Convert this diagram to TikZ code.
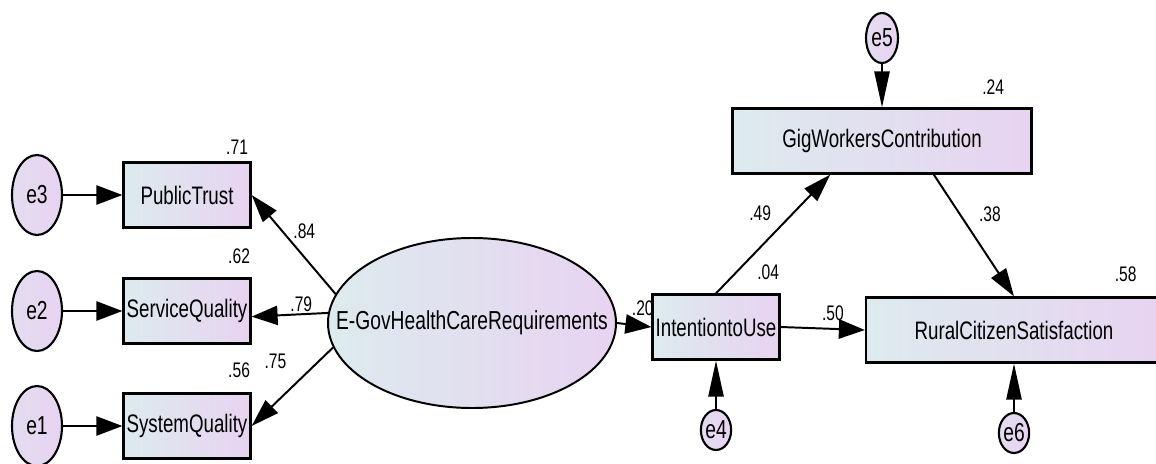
\documentclass[tikz,border=0pt]{standalone}
\usepackage{fontspec}
\setmainfont[FakeStretch=0.74]{Liberation Sans}
\usepackage{tikz}
\usetikzlibrary{arrows.meta,positioning,shapes.geometric}
\definecolor{AmosCyan}{HTML}{DCEBEE}
\definecolor{AmosPink}{HTML}{E8D3F1}
\tikzset{
  obsbox/.style={draw=black, line width=1.6pt, left color=AmosCyan, right color=AmosPink,
                 minimum width=3.175cm, minimum height=1.625cm, inner sep=0pt,
                 font=\fontsize{18}{21}\selectfont},
  latvar/.style={ellipse, draw=black, line width=1.4pt, left color=AmosCyan, right color=AmosPink,
                 minimum width=7.2cm, minimum height=4.25cm, inner sep=0pt,
                 font=\fontsize{18.5}{21}\selectfont},
  errvar/.style={ellipse, draw=black, line width=1.5pt, left color=AmosCyan!40!AmosPink, right color=AmosPink,
                 minimum width=1.25cm, minimum height=2cm, inner sep=0pt,
                 font=\fontsize{18.5}{21}\selectfont},
  coef/.style={font=\fontsize{15}{17}\selectfont, inner sep=1pt},
  hpath/.style={-{Triangle[length=6.5mm,width=4.8mm]}, line width=1.4pt},
  vpath/.style={-{Triangle[length=9mm,width=3.8mm]}, line width=1.4pt},
  dpath/.style={-{Triangle[length=7mm,width=4.4mm]}, line width=1.4pt}
}

\begin{document}
\begin{tikzpicture}[on grid]
\useasboundingbox (0,0) rectangle (28.9,-11.575);
% measurement part
\node[obsbox] (sq) at (4.675,-7.775) {ServiceQuality};
\node[obsbox, above=2.9cm of sq] (pt) {PublicTrust};
\node[obsbox, below=2.875cm of sq] (sy) {SystemQuality};
\node[errvar, left=3.75cm of pt] (e3) {e3};
\node[errvar, left=3.75cm of sq] (e2) {e2};
\node[errvar, left=3.75cm of sy] (e1) {e1};
\node[latvar, below right=0.3cm and 7.125cm of sq] (egov) {\makebox[0pt]{E-GovHealthCareRequirements}};
% structural part
\node[obsbox, below right=0.1cm and 6.1cm of egov] (itu) {IntentiontoUse};
\node[obsbox, minimum width=7.475cm, above right=4.65cm and 4.15cm of itu] (gwc) {GigWorkersContribution};
\node[obsbox, minimum width=7.4cm, below right=0.075cm and 7.45cm of itu] (rcs) {RuralCitizenSatisfaction};
\node[errvar, minimum width=0.8cm, minimum height=1.25cm, above=2.575cm of gwc] (e5) {e5};
\node[errvar, minimum width=0.75cm, minimum height=1cm, below=2.575cm of itu] (e4) {e4};
\node[errvar, minimum width=0.75cm, minimum height=1cm, below=2.575cm of rcs] (e6) {e6};
% squared multiple correlations
\node[coef, anchor=south east, xshift=-0.05cm, yshift=0.12cm] (r2pt) at (pt.north east) {.71};
\node[coef, anchor=south east, yshift=0.3cm] (r2sq) at (sq.north east) {.62};
\node[coef, anchor=south east, yshift=0.32cm] (r2sy) at (sy.north east) {.56};
\node[coef, anchor=south east, yshift=0.3cm] (r2itu) at (itu.north east) {.04};
\node[coef, anchor=south east, xshift=-0.675cm, yshift=0.28cm] (r2gwc) at (gwc.north east) {.24};
\node[coef, anchor=south east, xshift=-0.625cm, yshift=0.33cm] (r2rcs) at (rcs.north east) {.58};
% paths
\draw[hpath] (e3) -- (pt);
\draw[hpath] (e2) -- (sq);
\draw[hpath] (e1) -- (sy);
\draw[dpath] (egov.168) -- node[coef, pos=.53, anchor=south west] (b1) {.84} (pt.east);
\draw[hpath] (egov.176) -- node[coef, pos=.35, above] (b2) {.79} (sq.-5);
\draw[dpath] (egov.190) -- node[coef, pos=.3, anchor=south east, xshift=-0.5cm] (b3) {.75} (sy.east);
\draw[hpath] (egov.east) -- node[coef, pos=.75, above=0.2cm] (b4) {.20} (itu.west);
\draw[hpath] (itu.east) -- node[coef, pos=.62, above=0.15cm] (b5) {.50} (rcs.west);
\draw[dpath] (itu.north) -- node[coef, pos=.59, anchor=south east, xshift=-0.25cm] (b6) {.49} (gwc.213);
\draw[dpath] (gwc.-33) -- node[coef, pos=.41, anchor=south west, xshift=0.25cm] (b7) {.38} (rcs.north);
\draw[vpath] (e5) -- (gwc);
\draw[vpath] (e4) -- (itu);
\draw[vpath] (e6) -- (rcs);
\end{tikzpicture}
\end{document}
